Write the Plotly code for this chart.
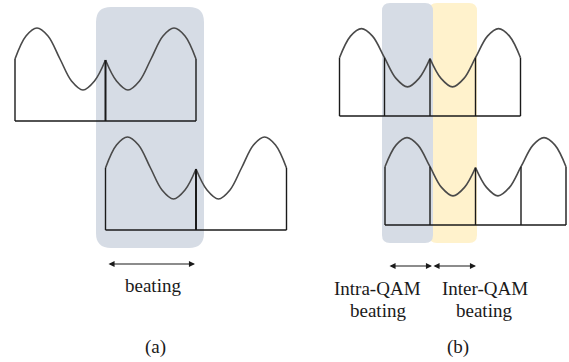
import plotly.graph_objects as go

W, H = 569, 362

# One lobe of the signal spectrum: offsets along the lobe (px) and height above baseline (px)
LOBE_DX = [0, 11, 22, 33, 45, 56.5, 68, 79.5, 90.5]
LOBE_H = [62, 85, 93, 85, 62, 40, 31, 40, 61]

# Each waveform: (left x, baseline y, height scale, divider style)
WAVES_A = [(15, 121, 1.0), (105.5, 230, 1.0)]
WAVES_B = [(339.5, 116, 0.94), (385, 225, 0.94)]

# Highlight boxes: (x0, x1, y0, y1, radius, colour) drawn in order
BOXES = [
    (96, 204, 7, 248, 15, "#d6dce5"),
    (429, 477, 3, 243, 8, "#fff2cc"),
    (382, 433, 3, 243, 8, "#d6dce5"),
]

# Arrow spans (x start, x end, y)
ARROWS = [(107, 195, 264), (388, 432, 266), (432, 476, 266)]

# Labels (text, x, y)
LABELS = [
    ("beating", 153, 285),
    ("(a)", 155, 347),
    ("Intra-QAM", 377, 288),
    ("beating", 378, 310),
    ("Inter-QAM", 485, 288),
    ("beating", 484, 310),
    ("(b)", 458, 347),
]

CURVE_COLOR = "#4a4a4a"
LINE_COLOR = "#1a1a1a"

fig = go.Figure()


def lobe_points(x0, base, scale, mirrored):
    span = LOBE_DX[-1]
    xs, ys = [], []
    for dx, h in zip(LOBE_DX, LOBE_H):
        if mirrored:
            xs.append(x0 + span * 2 - dx)
        else:
            xs.append(x0 + dx)
        ys.append(base - h * scale)
    if mirrored:
        xs, ys = xs[::-1], ys[::-1]
    return xs, ys


def add_vline(x, y_top, base, width=1.4):
    fig.add_trace(go.Scatter(x=[x, x], y=[base, y_top], mode="lines",
                             line=dict(color=LINE_COLOR, width=width),
                             hoverinfo="skip", showlegend=False))


def draw_wave(x0, base, scale, quarter_dividers):
    span = LOBE_DX[-1]
    for mirrored in (False, True):
        xs, ys = lobe_points(x0, base, scale, mirrored)
        fig.add_trace(go.Scatter(x=xs, y=ys, mode="lines",
                                 line=dict(color=CURVE_COLOR, width=1.6,
                                           shape="spline", smoothing=1.0),
                                 hoverinfo="skip", showlegend=False))
    # baseline
    fig.add_trace(go.Scatter(x=[x0, x0 + 2 * span], y=[base, base], mode="lines",
                             line=dict(color=LINE_COLOR, width=1.4),
                             hoverinfo="skip", showlegend=False))
    # outer edges and central cusp
    add_vline(x0, base - LOBE_H[0] * scale, base)
    add_vline(x0 + 2 * span, base - LOBE_H[0] * scale, base)
    add_vline(x0 + span, base - LOBE_H[-1] * scale, base, width=2.0 if not quarter_dividers else 1.4)
    if quarter_dividers:
        mid = LOBE_H[4] * scale
        add_vline(x0 + LOBE_DX[4], base - mid, base)
        add_vline(x0 + 2 * span - LOBE_DX[4], base - mid, base)


for x0, base, s in WAVES_A:
    draw_wave(x0, base, s, False)
for x0, base, s in WAVES_B:
    draw_wave(x0, base, s, True)


def rounded_rect(x0, x1, y0, y1, r):
    return (f"M {x0 + r},{y0} L {x1 - r},{y0} Q {x1},{y0} {x1},{y0 + r} "
            f"L {x1},{y1 - r} Q {x1},{y1} {x1 - r},{y1} L {x0 + r},{y1} "
            f"Q {x0},{y1} {x0},{y1 - r} L {x0},{y0 + r} Q {x0},{y0} {x0 + r},{y0} Z")


shapes = []
for x0, x1, y0, y1, r, c in BOXES:
    shapes.append(dict(type="path", path=rounded_rect(x0, x1, y0, y1, r),
                       xref="x", yref="y", fillcolor=c, line=dict(width=0),
                       layer="below"))

annotations = []
for xa, xb, y in ARROWS:
    annotations.append(dict(x=xb, y=y, ax=xa, ay=y, xref="x", yref="y",
                            axref="x", ayref="y", text="", showarrow=True,
                            arrowhead=2, startarrowhead=2, arrowside="end+start",
                            arrowsize=1.1, startarrowsize=1.1, arrowwidth=1.1,
                            arrowcolor=LINE_COLOR))
for text, x, y in LABELS:
    annotations.append(dict(x=x, y=y, xref="x", yref="y", text=text,
                            showarrow=False, xanchor="center", yanchor="middle",
                            font=dict(family="Liberation Serif, Times New Roman, serif",
                                      size=19, color="#1a1a1a")))

fig.update_layout(
    width=W, height=H,
    margin=dict(l=0, r=0, t=0, b=0),
    paper_bgcolor="white", plot_bgcolor="white",
    xaxis=dict(range=[0, W], visible=False, fixedrange=True),
    yaxis=dict(range=[H, 0], visible=False, fixedrange=True),
    shapes=shapes, annotations=annotations, showlegend=False,
)

fig.write_html("out.html")
